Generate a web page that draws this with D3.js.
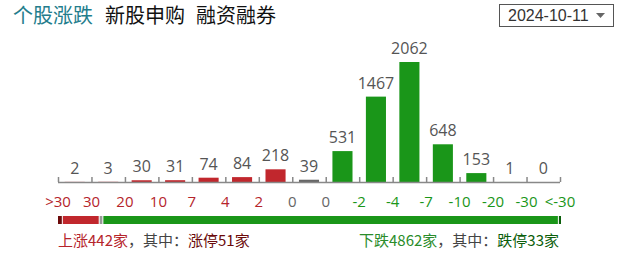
<!DOCTYPE html>
<html>
<head>
<meta charset="utf-8">
<script src="https://cdn.jsdelivr.net/npm/d3@7/dist/d3.min.js"></script>
<style>
  body { margin: 0; background: #fff; }
  svg { display: block; }
  .vlabel { font-family: "Open Sans", Arial, sans-serif; font-size: 16px; fill: #555; text-anchor: middle; }
  .tlabel { font-family: "Open Sans", Arial, sans-serif; font-size: 15px; text-anchor: middle; }
  .tab { font-family: "Noto Sans CJK SC", sans-serif; font-size: 20px; }
  .foot { font-family: "Noto Sans CJK SC", sans-serif; font-size: 15px; }
</style>
</head>
<body>
<svg id="chart" width="617" height="259"></svg>
<script>
// data
const counts = [2, 3, 30, 31, 74, 84, 218, 39, 531, 1467, 2062, 648, 153, 1, 0];
const barKind = ['up', 'up', 'up', 'up', 'up', 'up', 'up', 'flat', 'down', 'down', 'down', 'down', 'down', 'down', 'down'];
const tickLabels = ['>30', '30', '20', '10', '7', '4', '2', '0', '0', '-2', '-4', '-7', '-10', '-20', '-30', '<-30'];
const tickKind = ['up', 'up', 'up', 'up', 'up', 'up', 'up', 'flat', 'flat', 'down', 'down', 'down', 'down', 'down', 'down', 'down'];
const tabs = ['个股涨跌', '新股申购', '融资融券'];
const dateText = '2024-10-11';
const upTotal = 442, limitUp = 51, flatTotal = 39, downTotal = 4862, limitDown = 33;

const svg = d3.select('#chart');

const colors = { up: '#c1272d', flat: '#666', down: '#1a9619' };
const tickColors = { up: '#b5242b', flat: '#666', down: '#1a9619' };

const left = 58, right = 560, baseY = 182, topY = 62;

const x = d3.scaleBand()
  .domain(d3.range(counts.length))
  .range([left, right])
  .paddingInner(0.4)
  .paddingOuter(0.2);

const xt = d3.scaleLinear()
  .domain([0, counts.length])
  .range([left, right]);

const y = d3.scaleLinear()
  .domain([0, 2062])
  .range([baseY, topY]);

// tabs
const tabX = [13, 105, 196];
svg.selectAll('.tab').data(tabs)
  .join('text')
  .attr('class', 'tab')
  .attr('x', (d, i) => tabX[i])
  .attr('y', 23)
  .attr('fill', (d, i) => i === 0 ? '#237d8c' : '#111')
  .text(d => d);

// date box
svg.append('rect')
  .attr('x', 499.5).attr('y', 4.5)
  .attr('width', 114).attr('height', 22)
  .attr('fill', '#fff').attr('stroke', '#555');
svg.append('text')
  .attr('x', 508).attr('y', 21)
  .style('font-family', 'Arial, "Liberation Sans", sans-serif')
  .style('font-size', '16px')
  .attr('fill', '#333')
  .text(dateText);
svg.append('path')
  .attr('d', 'M596,13 L605,13 L600.5,18 Z')
  .attr('fill', '#666');

// bars
svg.selectAll('.bar').data(counts)
  .join('rect')
  .attr('class', 'bar')
  .attr('x', (d, i) => x(i))
  .attr('width', x.bandwidth())
  .attr('y', d => y(d))
  .attr('height', d => baseY - y(d))
  .attr('fill', (d, i) => colors[barKind[i]]);

// value labels
svg.selectAll('.vlabel').data(counts)
  .join('text')
  .attr('class', 'vlabel')
  .attr('x', (d, i) => x(i) + x.bandwidth() / 2)
  .attr('y', d => y(d) - 8)
  .text(d => d);

// axis
const axis = d3.axisBottom(xt)
  .tickValues(d3.range(counts.length + 1))
  .tickSize(5)
  .tickSizeOuter(0)
  .tickFormat('');

const ax = svg.append('g')
  .attr('transform', `translate(0,${baseY - 5})`)
  .call(axis);
ax.select('.domain').remove();
ax.selectAll('.tick line').attr('stroke', '#888').attr('stroke-width', 1.5);
svg.append('line')
  .attr('x1', left).attr('x2', right)
  .attr('y1', baseY + 0.5).attr('y2', baseY + 0.5)
  .attr('stroke', '#888').attr('stroke-width', 1.5);

svg.selectAll('.tlabel').data(tickLabels)
  .join('text')
  .attr('class', 'tlabel')
  .attr('x', (d, i) => xt(i))
  .attr('y', 207)
  .attr('fill', (d, i) => tickColors[tickKind[i]])
  .text(d => d);

// summary bar
const total = upTotal + flatTotal + downTotal;
const seg = [
  { v: limitUp, c: '#6b0a0a' },
  { v: upTotal - limitUp, c: '#c1272d' },
  { v: flatTotal, c: '#999' },
  { v: downTotal - limitDown, c: '#1a9619' },
  { v: limitDown, c: '#0b5e0b' }
];
const s = d3.scaleLinear().domain([0, total]).range([left, 562]);
let acc = 0;
seg.forEach(d => { d.x0 = acc; acc += d.v; d.x1 = acc; });
svg.selectAll('.seg').data(seg)
  .join('rect')
  .attr('class', 'seg')
  .attr('x', d => s(d.x0))
  .attr('width', d => Math.max(1, s(d.x1) - s(d.x0) - 1))
  .attr('y', 216)
  .attr('height', 8)
  .attr('fill', d => d.c);

// footer texts
const ft = svg.append('text').attr('class', 'foot').attr('x', left).attr('y', 246);
ft.append('tspan').attr('fill', '#b5242b').text(`上涨${upTotal}家`);
ft.append('tspan').attr('fill', '#444').text('，其中：');
ft.append('tspan').attr('fill', '#6b0a0a').text(`涨停${limitUp}家`);

const fr = svg.append('text').attr('class', 'foot').attr('x', 559).attr('y', 246).attr('text-anchor', 'end');
fr.append('tspan').attr('fill', '#2a8c2a').text(`下跌${downTotal}家`);
fr.append('tspan').attr('fill', '#444').text('，其中：');
fr.append('tspan').attr('fill', '#0b5e0b').text(`跌停${limitDown}家`);
</script>
</body>
</html>
